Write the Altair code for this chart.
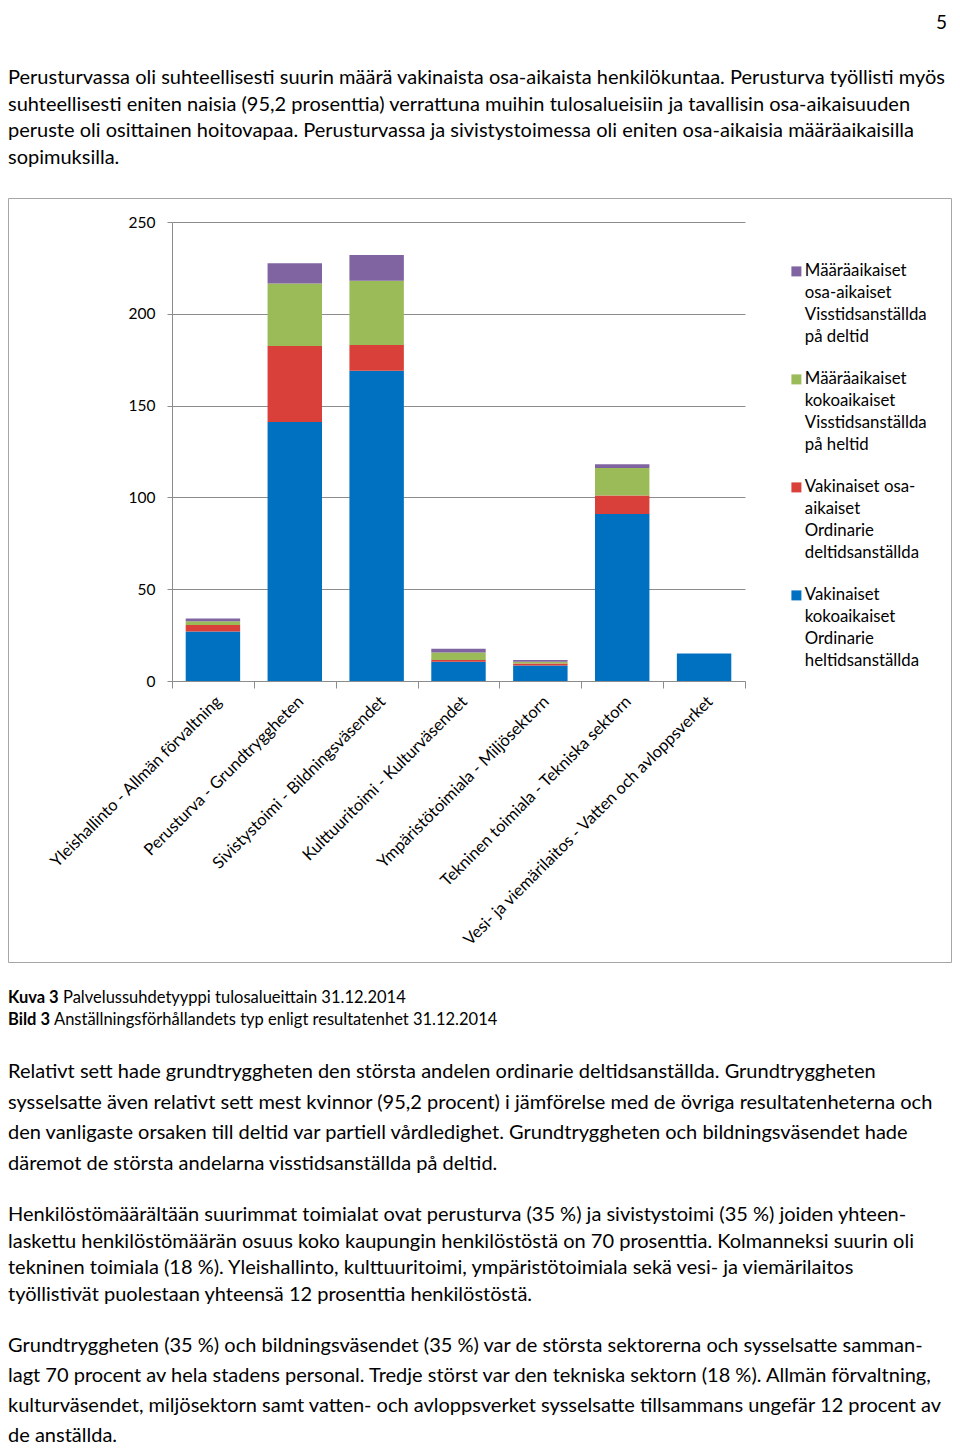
import altair as alt
import pandas as pd

FONT = "Lato"

# ---------------- chart data ----------------
categories = [
    "Yleishallinto - Allmän förvaltning",
    "Perusturva - Grundtryggheten",
    "Sivistystoimi - Bildningsväsendet",
    "Kulttuuritoimi - Kulturväsendet",
    "Ympäristötoimiala - Miljösektorn",
    "Tekninen toimiala - Tekniska sektorn",
    "Vesi- ja viemärilaitos - Vatten och avloppsverket",
]
# series in stacking order (bottom -> top); '|' marks legend line breaks
series = [
    "Vakinaiset|kokoaikaiset|Ordinarie|heltidsanställda",
    "Vakinaiset osa-|aikaiset|Ordinarie|deltidsanställda",
    "Määräaikaiset|kokoaikaiset|Visstidsanställda|på heltid",
    "Määräaikaiset|osa-aikaiset|Visstidsanställda|på deltid",
]
colors = ["#0070C0", "#D9403A", "#9BBB59", "#8064A2"]

vakinaiset_kokoaikaiset = [27, 141, 169, 10.5, 8.5, 91, 15]
vakinaiset_osa_aikaiset = [3.5, 41.5, 14, 1, 1, 10, 0]
maaraaikaiset_kokoaikaiset = [2, 34, 35, 4, 1, 15, 0]
maaraaikaiset_osa_aikaiset = [1.5, 11, 14, 2, 1, 2, 0]

y_ticks = [0, 50, 100, 150, 200, 250]

# ---------------- page text ----------------
page_number = "5"
para1 = [
    "Perusturvassa oli suhteellisesti suurin määrä vakinaista osa-aikaista henkilökuntaa. Perusturva työllisti myös",
    "suhteellisesti eniten naisia (95,2 prosenttia) verrattuna muihin tulosalueisiin ja tavallisin osa-aikaisuuden",
    "peruste oli osittainen hoitovapaa. Perusturvassa ja sivistystoimessa oli eniten osa-aikaisia määräaikaisilla",
    "sopimuksilla.",
]
caption_bold = ["Kuva 3", "Bild 3"]
caption_text = [
    "Palvelussuhdetyyppi tulosalueittain 31.12.2014",
    "Anställningsförhållandets typ enligt resultatenhet 31.12.2014",
]
para2 = [
    "Relativt sett hade grundtryggheten den största andelen ordinarie deltidsanställda. Grundtryggheten",
    "sysselsatte även relativt sett mest kvinnor (95,2 procent) i jämförelse med de övriga resultatenheterna och",
    "den vanligaste orsaken till deltid var partiell vårdledighet. Grundtryggheten och bildningsväsendet hade",
    "däremot de största andelarna visstidsanställda på deltid.",
]
para3 = [
    "Henkilöstömäärältään suurimmat toimialat ovat perusturva (35 %) ja sivistystoimi (35 %) joiden yhteen-",
    "laskettu henkilöstömäärän osuus koko kaupungin henkilöstöstä on 70 prosenttia. Kolmanneksi suurin oli",
    "tekninen toimiala (18 %). Yleishallinto, kulttuuritoimi, ympäristötoimiala sekä vesi- ja viemärilaitos",
    "työllistivät puolestaan yhteensä 12 prosenttia henkilöstöstä.",
]
para4 = [
    "Grundtryggheten (35 %) och bildningsväsendet (35 %) var de största sektorerna och sysselsatte samman-",
    "lagt 70 procent av hela stadens personal. Tredje störst var den tekniska sektorn (18 %). Allmän förvaltning,",
    "kulturväsendet, miljösektorn samt vatten- och avloppsverket sysselsatte tillsammans ungefär 12 procent av",
    "de anställda.",
]

# ---------------- build table ----------------
values_by_series = [
    vakinaiset_kokoaikaiset,
    vakinaiset_osa_aikaiset,
    maaraaikaiset_kokoaikaiset,
    maaraaikaiset_osa_aikaiset,
]
rows = []
for si, (s, vals) in enumerate(zip(series, values_by_series)):
    for c, v in zip(categories, vals):
        rows.append({"category": c, "series": s, "value": v, "order": si})
df = pd.DataFrame(rows)

GRID = "#8c8c8c"

bars = (
    alt.Chart(df)
    .mark_bar(width=alt.RelativeBandSize(0.665))
    .encode(
        x=alt.X(
            "category:N",
            sort=categories,
            scale=alt.Scale(paddingInner=0, paddingOuter=0),
            axis=alt.Axis(
                title=None,
                labelAngle=-45,
                tickBand="extent",
                grid=False,
                domainColor=GRID,
                tickColor=GRID,
                tickSize=7,
                labelFont=FONT,
                labelFontSize=16.5,
                labelColor="black",
                labelLimit=0,
                labelPadding=5,
            ),
        ),
        y=alt.Y(
            "value:Q",
            stack="zero",
            scale=alt.Scale(domain=[0, 250]),
            axis=alt.Axis(
                title=None,
                values=y_ticks,
                grid=True,
                gridColor=GRID,
                domainColor=GRID,
                tickColor=GRID,
                tickSize=5,
                labelFont=FONT,
                labelFontSize=15.5,
                labelColor="black",
                labelPadding=12,
            ),
        ),
        color=alt.Color(
            "series:N",
            scale=alt.Scale(domain=series, range=colors),
            legend=alt.Legend(
                orient="none",
                legendX=616,
                legendY=41,
                title=None,
                values=series[::-1],
                labelExpr="split(datum.label, '|')",
                symbolType="square",
                symbolSize=100,
                symbolStrokeWidth=0,
                labelFont=FONT,
                labelFontSize=16.8,
                labelColor="black",
                labelLimit=0,
                labelOffset=0,
                labelBaseline="middle",
                rowPadding=24,
            ),
        ),
        order=alt.Order("order:Q", sort="ascending"),
    )
)


def text_layer(lines, x, y, size, lh=20, weight="normal", align="left"):
    return (
        alt.Chart(pd.DataFrame({"t": ["|".join(lines)]}))
        .mark_text(
            align=align,
            baseline="middle",
            lineBreak="|",
            lineHeight=lh,
            fontSize=size,
            font=FONT,
            fontWeight=weight,
            color="black",
        )
        .encode(x=alt.value(x), y=alt.value(y), text="t:N")
    )


border = (
    alt.Chart(pd.DataFrame({"b": [0]}))
    .mark_rect(fillOpacity=0, stroke="#a6a6a6", strokeWidth=1)
    .encode(
        x=alt.value(-163.5),
        x2=alt.value(779.5),
        y=alt.value(-23.5),
        y2=alt.value(740.5),
    )
)

BODY = 20.0
layers = [
    border,
    bars,
    text_layer([page_number], 775, -199, 19, align="right"),
    text_layer(para1, -164, -144, BODY, lh=26.6),
    text_layer([caption_bold[0]], -164, 776, 16.5, weight="bold"),
    text_layer([caption_text[0]], -109, 776, 16.5),
    text_layer([caption_bold[1]], -164, 798, 16.5, weight="bold"),
    text_layer([caption_text[1]], -118, 798, 16.5),
    text_layer(para2, -164, 850, BODY, lh=30.6),
    text_layer(para3, -164, 993, BODY, lh=26.7),
    text_layer(para4, -164, 1124, BODY, lh=30.0),
]

chart = (
    alt.layer(*layers)
    .properties(
        width=573,
        height=459,
        autosize=alt.AutoSizeParams(type="none"),
        padding={"left": 164, "top": 214, "right": 207, "bottom": 767},
        background="white",
    )
    .configure(style={"guide-label": {"lineHeight": 22}})
    .configure_view(stroke=None)
)

chart.save("out.html", embed_options={"renderer": "svg", "actions": False})
